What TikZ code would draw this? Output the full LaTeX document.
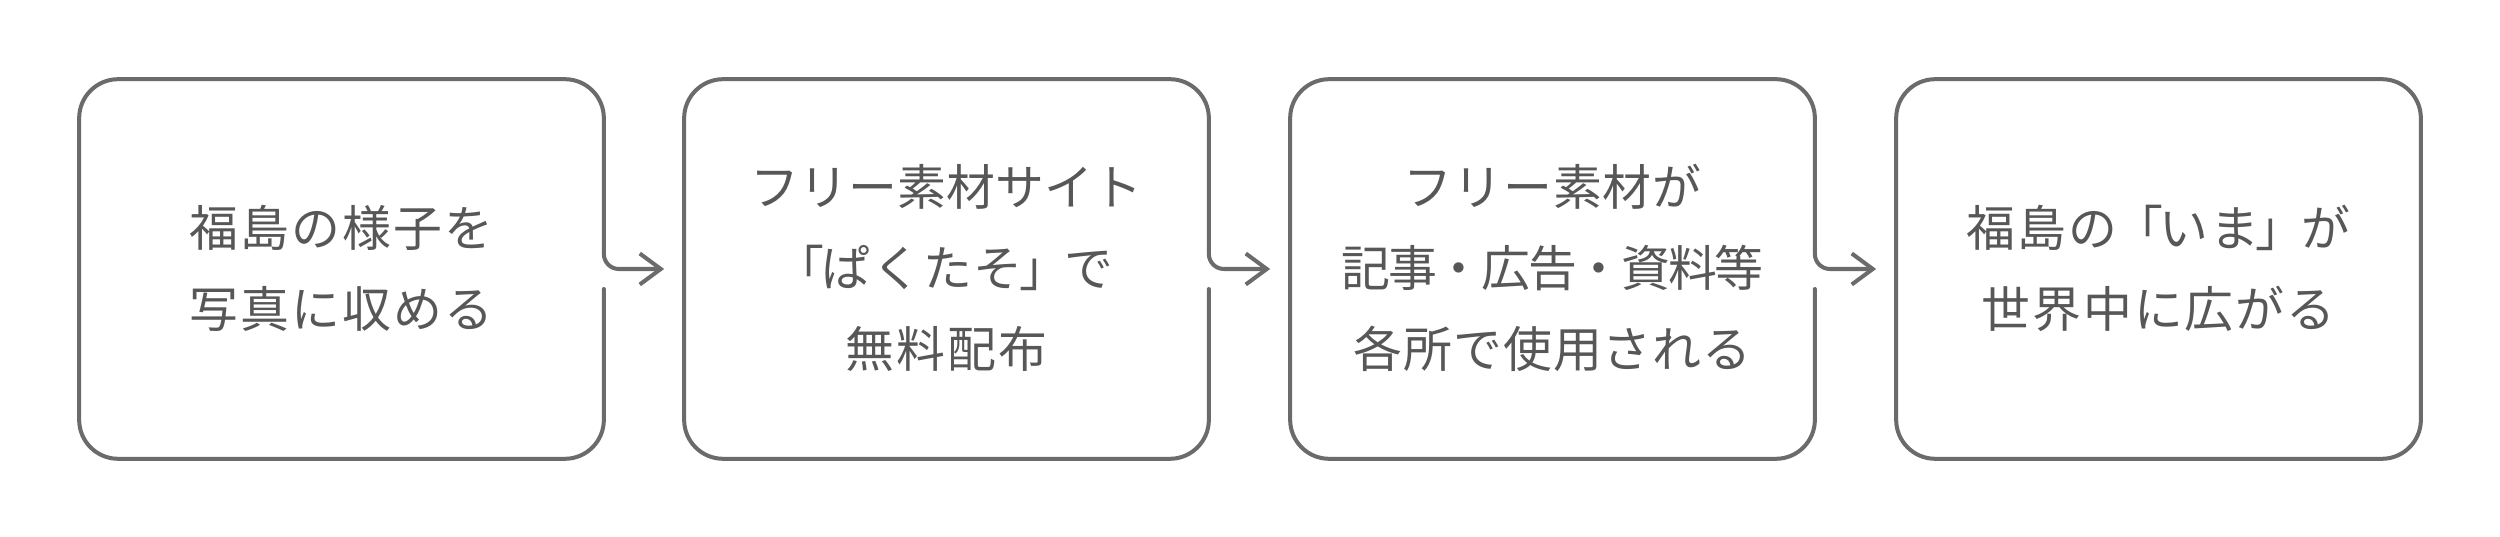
\documentclass[tikz,border=0pt]{standalone}
\usepackage{fontspec}
\newfontfamily\jpfont[LetterSpace=4]{Noto Sans CJK JP}
\usetikzlibrary{arrows.meta,calc}
\definecolor{linegray}{HTML}{6B6B6B}
\definecolor{textgray}{HTML}{575757}
\newcommand\jpopen{\kern-0.07em「\kern-0.07em}
\newcommand\jpclose{\kern-0.07em」\kern-0.07em}
\newcommand\trk[2]{{\addfontfeature{LetterSpace=#1}#2}}
\begin{document}
\begin{tikzpicture}[x=0.01cm, y=-0.01cm,
  stepbox/.style={rectangle, minimum width=5.23cm, minimum height=3.78cm, inner sep=0pt, draw=none},
  steplabel/.style={font=\jpfont\fontsize{13.9pt}{23.05pt}\selectfont, text=textgray, align=center, inner sep=0pt},
  outline/.style={draw=linegray, line width=1.14pt, line cap=round, line join=round},
  flow/.style={outline, rounded corners=0.15cm, -{Straight Barb[length=2.1mm, width=3.1mm]}}
]
\useasboundingbox (0,0) rectangle (2500,537);
\fill[white] (0,0) rectangle (2500,537);

\node[stepbox] (b1) at (341.5,269) {};
\node[stepbox] (b2) at (946.5,269) {};
\node[stepbox] (b3) at (1552.5,269) {};
\node[stepbox] (b4) at (2158.5,269) {};

\node[steplabel] (t1) at (341.5,268) {福島の様子を\\写真に収める};
\node[steplabel] (t2) at (946.5,268) {\trk{0.5}{フリー素材サイト}\\\jpopen ぱくたそ\jpclose で\\無料配布};
\node[steplabel] (t3) at (1552.5,268) {\trk{2}{フリー素材が}\\\trk{-4.5}{記事・広告・資料等}\\\trk{2}{各所で使用される}};
\node[steplabel] (t4) at (2158.5,268) {福島の\jpopen いま\jpclose が\\世界中に広がる};

\foreach \a/\b in {b1/b2, b2/b3, b3/b4}{
  \draw[outline, rounded corners=0.39cm] ($(\a.east)+(0,20)$) -- (\a.south east) -- (\a.south west) -- (\a.north west) -- (\a.north east) -- ($(\a.east)+(0,-20)$);
  \draw[flow] ($(\a.east)+(0,-20)$) -- (\a.east) -- ($(\b.west)+(-20,0)$);
}
\draw[outline, rounded corners=0.39cm] (b4.north west) rectangle (b4.south east);
\end{tikzpicture}
\end{document}
